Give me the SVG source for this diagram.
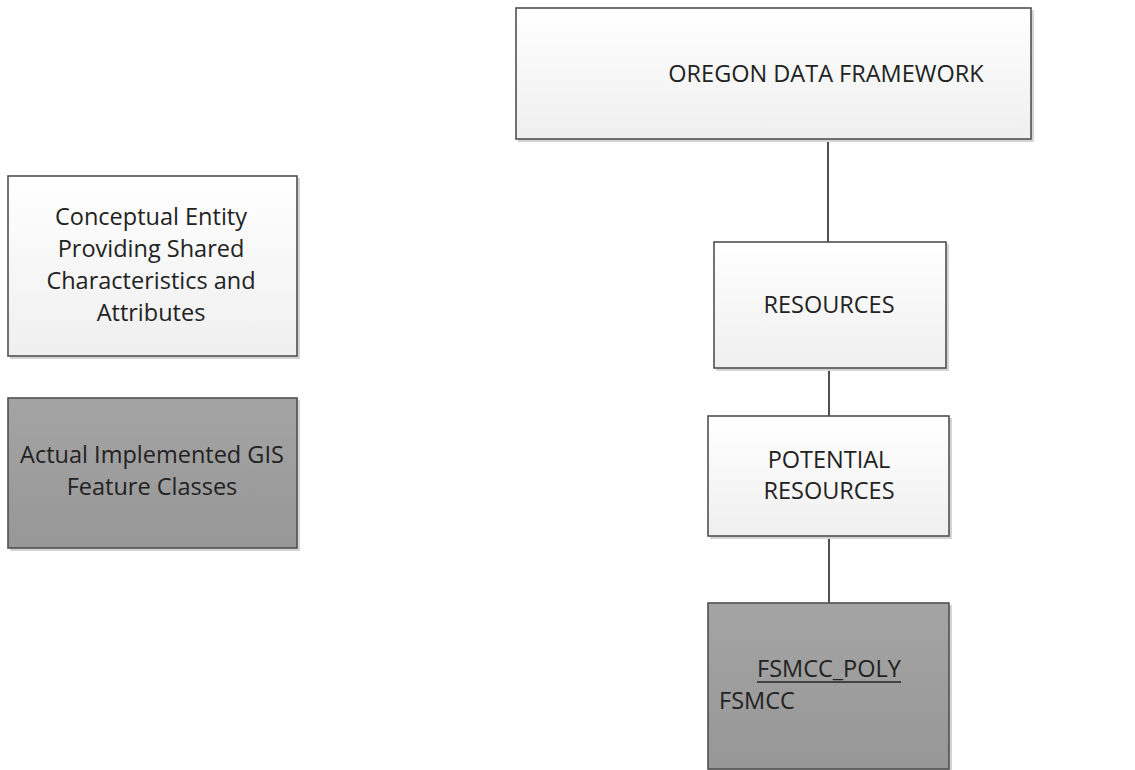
<svg xmlns="http://www.w3.org/2000/svg" width="1135" height="770" viewBox="0 0 1135 770">
<style>
.box{stroke:#505050;stroke-width:1.6}
.light{fill:url(#gl)}
.dark{fill:url(#gd)}
.sh{fill:#d4d4d4}
text{font-family:"Open Sans","DejaVu Sans",sans-serif;font-size:23.5px;fill:#222}
.c{text-anchor:middle}
.conn{stroke:#505050;stroke-width:2;fill:none}
</style>
<defs>
<linearGradient id="gl" x1="0" y1="0" x2="0" y2="1">
<stop offset="0" stop-color="#ffffff"/>
<stop offset="1" stop-color="#efefef"/>
</linearGradient>
<linearGradient id="gd" x1="0" y1="0" x2="0" y2="1">
<stop offset="0" stop-color="#a4a4a4"/>
<stop offset="1" stop-color="#979797"/>
</linearGradient>
</defs>
<g id="connectors">
<line class="conn" x1="828" y1="139" x2="828" y2="242"/>
<line class="conn" x1="829" y1="368" x2="829" y2="416"/>
<line class="conn" x1="829" y1="536" x2="829" y2="603"/>
</g>
<g id="legend-conceptual">
<rect class="sh" x="10" y="178" width="290" height="181"/>
<rect class="box light" x="8" y="176" width="289" height="180"/>
<text class="c" x="151" y="225">Conceptual Entity</text>
<text class="c" x="151" y="257">Providing Shared</text>
<text class="c" x="151" y="289">Characteristics and</text>
<text class="c" x="151" y="321">Attributes</text>
</g>
<g id="legend-implemented">
<rect class="sh" x="10" y="400" width="290" height="151"/>
<rect class="box dark" x="8" y="398" width="289" height="150"/>
<text class="c" x="152" y="463">Actual Implemented GIS</text>
<text class="c" x="152" y="495">Feature Classes</text>
</g>
<g id="oregon-data-framework">
<rect class="sh" x="518" y="10" width="516" height="132"/>
<rect class="box light" x="516" y="8" width="515" height="131"/>
<text class="c" x="826" y="82">OREGON DATA FRAMEWORK</text>
</g>
<g id="resources">
<rect class="sh" x="716" y="244" width="233" height="127"/>
<rect class="box light" x="714" y="242" width="232" height="126"/>
<text class="c" x="829" y="313">RESOURCES</text>
</g>
<g id="potential-resources">
<rect class="sh" x="710" y="418" width="242" height="121"/>
<rect class="box light" x="708" y="416" width="241" height="120"/>
<text class="c" x="829" y="468">POTENTIAL</text>
<text class="c" x="829" y="499">RESOURCES</text>
</g>
<g id="fsmcc-poly">
<rect class="sh" x="710" y="605" width="242" height="170"/>
<rect class="box dark" x="708" y="603" width="241" height="166"/>
<text class="c" x="829" y="677">FSMCC_POLY</text>
<line x1="757" y1="682" x2="901" y2="682" stroke="#222" stroke-width="1.3"/>
<text x="719" y="709">FSMCC</text>
</g>
</svg>
